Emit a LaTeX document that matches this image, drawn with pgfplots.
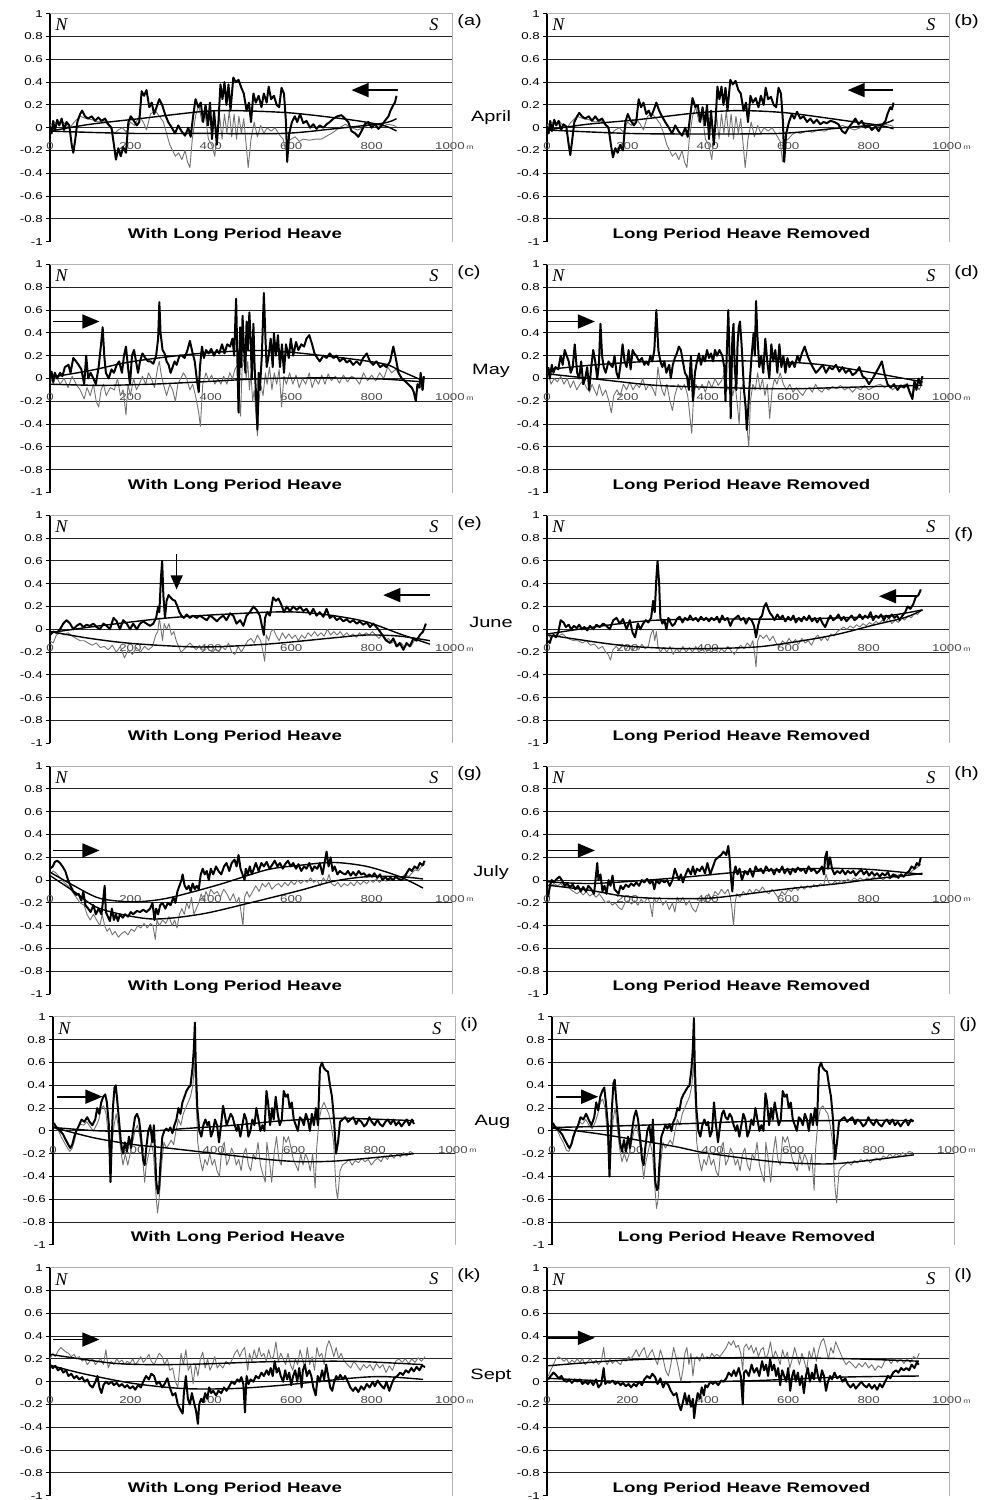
\documentclass[border=0pt]{standalone}
\usepackage{fontspec}
\setmainfont{Liberation Sans}
\newfontfamily\tnr{Liberation Serif}
\usepackage{pgfplots}
\pgfplotsset{compat=1.18}
\usetikzlibrary{arrows.meta}

\pgfplotsset{
  panel/.style={
    scale only axis, width=201pt, height=114pt,
    xmin=0, xmax=1000, ymin=-1, ymax=1,
    axis lines=left, axis line style={-},
    x axis line style={draw=none},
    y axis line style={black, line width=0.6pt},
    xtick=\empty,
    ytick={-0.8,-0.6,-0.4,-0.2,0,0.2,0.4,0.6,0.8},
    extra y ticks={-1,1},
    extra y tick style={grid=none},
    ymajorgrids,
    grid style={black!85, line width=0.55pt},
    major tick length=2pt,
    tick align=outside,
    tick style={black, line width=0.5pt},
    /pgf/number format/assume math mode=true,
    yticklabel style={font=\fontsize{5}{5}\selectfont, xscale=1.33, inner sep=1pt},
    clip=false,
  },
  blk/.style={black, line width=1pt, line join=round},
  gry/.style={black!55, line width=0.45pt, line join=round},
  trd/.style={black, line width=0.7pt, smooth},
}
\tikzset{
  tl/.style={font=\fontsize{5}{5}\selectfont, xscale=1.33, text=black!70, inner sep=0pt},
  ns/.style={font=\fontsize{9}{9}\selectfont\tnr\itshape, inner sep=0pt},
  plab/.style={font=\fontsize{7.5}{8}\selectfont, xscale=1.33, anchor=west, inner sep=0pt},
  ttl/.style={font=\fontsize{7}{8}\selectfont\bfseries, xscale=1.33, inner sep=0pt},
  mon/.style={font=\fontsize{7.5}{8}\selectfont, xscale=1.33, inner sep=0pt},
  arr/.style={black, line width=0.8pt, -{Triangle[length=8.5pt,width=7pt]}},
  arrd/.style={black, line width=0.6pt, -{Triangle[length=7pt,width=6pt]}},
}

% frame, x labels, N/S, panel letter
\newcommand\deco[2]{%
  \draw[black!30, line width=0.5pt] (axis cs:0,1) -- (axis cs:1000,1) -- (axis cs:1000,-1);
  \node[tl] at (axis cs:0,-0.165) {0};
  \node[tl] at (axis cs:200,-0.165) {200};
  \node[tl] at (axis cs:400,-0.165) {400};
  \node[tl] at (axis cs:600,-0.165) {600};
  \node[tl] at (axis cs:800,-0.165) {800};
  \node[tl] at (axis cs:995,-0.165) {1000};
  \node[tl, font=\fontsize{3.3}{4}\selectfont] at (axis cs:1045,-0.175) {m};
  \node[ns] at (axis cs:28,0.9) {N};
  \node[ns] at (axis cs:955,0.9) {S};
  \node[plab] at (axis cs:1012,#2) {(#1)};
}
\newcommand\ldeco[1]{\deco{#1}{0.93}\node[ttl] at (axis cs:460,-0.94) {With Long Period Heave};}
\newcommand\rdeco[2]{\deco{#1}{#2}\node[ttl] at (axis cs:484,-0.94) {Long Period Heave Removed};}

\begin{document}
\begin{tikzpicture}
\path[use as bounding box] (0,0) rectangle (492pt,-750pt);

% ---------------- April ----------------
\begin{axis}[panel, at={(25pt,-6.85pt)}, anchor=north west]
\ldeco{a}
\node[mon] at (axis cs:1097,0.085) {April};
\addplot[gry] coordinates {(0,0.02)(10,0.05)(20,0.03)(30,0.06)(40,0.02)(50,0)(60,0.05)(75,0.1)(90,0.08)(105,0.07)(120,0.05)(135,0.06)(150,0)(160,-0.05)(170,-0.02)(180,0)(190,-0.04)(200,0.05)(210,0.02)(222,0.1)(232,0.05)(240,-0.02)(250,0.12)(262,0.15)(272,0.1)(282,0.05)(290,-0.05)(298,-0.15)(305,-0.2)(312,-0.25)(320,-0.22)(328,-0.28)(336,-0.2)(342,-0.3)(348,-0.35)(354,-0.1)(362,0.1)(370,0.2)(378,0.05)(386,0.12)(394,-0.1)(402,-0.15)(410,-0.25)(416,-0.05)(422,0.1)(428,-0.1)(434,0.12)(440,-0.05)(446,0.15)(452,-0.08)(458,0.12)(464,-0.1)(470,0.1)(476,-0.05)(482,0.08)(488,-0.15)(493,-0.35)(500,-0.1)(508,0.05)(516,-0.08)(524,0.02)(532,-0.05)(540,0)(550,-0.03)(560,0)(570,-0.06)(580,-0.1)(586,-0.2)(592,-0.12)(600,-0.1)(610,-0.08)(620,-0.12)(630,-0.1)(645,-0.11)(660,-0.1)(675,-0.1)(690,-0.07)(705,-0.04)(720,0)(735,0.03)(750,0)(765,-0.02)(780,0)(795,0.03)(810,0.02)(825,0.01)(840,0.03)(855,0.02)(862,0.01)};
\addplot[blk] coordinates {(0,0)(4,-0.05)(8,0.06)(12,-0.03)(18,0.07)(23,0.02)(29,0.08)(35,-0.02)(41,0.05)(48,0.02)(54,-0.15)(58,-0.22)(63,-0.1)(68,0.05)(75,0.12)(80,0.15)(87,0.1)(95,0.08)(104,0.1)(112,0.06)(120,0.09)(128,0.06)(137,0.08)(145,0.03)(153,0)(159,-0.15)(164,-0.28)(170,-0.18)(176,-0.25)(182,-0.17)(189,-0.22)(195,0.05)(201,0.1)(207,0.07)(216,0.02)(222,0.05)(228,0.32)(234,0.28)(240,0.33)(247,0.18)(253,0.22)(259,0.12)(265,0.18)(272,0.25)(279,0.2)(286,0.12)(294,0.05)(303,0)(311,-0.05)(319,0.02)(327,-0.03)(336,-0.07)(344,0)(350,-0.08)(356,0.1)(362,0.25)(369,0.18)(375,0.22)(381,0.05)(387,0.2)(393,0.02)(398,0.22)(403,-0.1)(408,0.15)(415,-0.15)(419,0.05)(424,0.38)(429,0.25)(434,0.4)(439,0.2)(444,0.38)(449,0.15)(456,0.44)(462,0.4)(469,0.42)(476,0.35)(482,0.3)(489,0.15)(495,0.22)(500,0.05)(506,0.3)(512,0.22)(519,0.28)(526,0.18)(532,0.3)(539,0.22)(544,0.36)(550,0.25)(557,0.28)(564,0.2)(570,0.18)(576,0.35)(582,0.3)(587,0.05)(590,-0.3)(595,-0.05)(602,0.05)(609,0.1)(615,0.05)(622,0.12)(630,0.04)(638,0.06)(647,0)(655,0.03)(663,-0.01)(671,0.02)(680,0)(688,0.03)(696,0.05)(705,0.08)(715,0.1)(725,0.11)(734,0.08)(742,0.05)(750,-0.03)(759,-0.05)(767,-0.08)(775,-0.03)(783,0.03)(792,0.05)(800,0)(808,0.03)(817,-0.01)(825,0.02)(833,0.06)(842,0.1)(847,0.15)(854,0.2)(858,0.22)(862,0.28)};
\addplot[trd] coordinates {(0,-0.03)(100,0.03)(224,0.08)(373,0.14)(456,0.15)(597,0.13)(746,0.07)(829,0.02)(862,-0.03)};
\addplot[trd] coordinates {(0,-0.03)(200,-0.05)(373,-0.05)(580,-0.05)(705,-0.01)(829,0.04)(862,0.08)};
\draw[arr] (axis cs:865,0.33) -- (axis cs:750,0.33);
\end{axis}

\begin{axis}[panel, at={(273.5pt,-6.85pt)}, anchor=north west]
\rdeco{b}{0.93}
\addplot[gry] coordinates {(0,0.02)(10,0.05)(20,0.03)(30,0.06)(40,0.02)(50,0)(60,0.05)(75,0.1)(90,0.08)(105,0.07)(120,0.05)(135,0.06)(150,0)(160,-0.05)(170,-0.02)(180,0)(190,-0.04)(200,0.05)(210,0.02)(222,0.08)(232,0.03)(240,-0.02)(250,0.1)(262,0.12)(272,0.08)(282,0.03)(290,-0.05)(298,-0.15)(305,-0.2)(312,-0.25)(320,-0.22)(328,-0.28)(336,-0.2)(342,-0.3)(348,-0.35)(354,-0.1)(362,0.1)(370,0.18)(378,0.05)(386,0.12)(394,-0.1)(402,-0.15)(410,-0.28)(416,-0.05)(422,0.1)(428,-0.1)(434,0.12)(440,-0.05)(446,0.15)(452,-0.08)(458,0.12)(464,-0.1)(470,0.1)(476,-0.05)(482,0.08)(488,-0.15)(493,-0.35)(500,-0.1)(508,0.05)(516,-0.08)(524,0.02)(532,-0.05)(540,0)(550,-0.03)(560,0)(570,-0.06)(580,-0.12)(586,-0.3)(592,-0.12)(600,-0.1)(610,-0.06)(620,-0.04)(630,-0.05)(645,-0.03)(660,-0.04)(675,-0.02)(690,-0.03)(705,-0.01)(720,0)(735,0.02)(750,0)(765,-0.02)(780,0)(795,0.03)(810,0.02)(825,0.01)(840,0.03)(855,0.02)(862,0.01)};
\addplot[blk] coordinates {(0,0)(4,-0.05)(8,0.06)(12,-0.03)(18,0.07)(23,0.02)(29,0.06)(35,-0.02)(41,0.03)(48,0.01)(54,-0.15)(58,-0.24)(63,-0.1)(68,0.05)(75,0.1)(80,0.13)(87,0.1)(95,0.08)(104,0.1)(112,0.06)(120,0.1)(128,0.06)(137,0.08)(145,0.03)(153,0)(159,-0.15)(164,-0.26)(170,-0.18)(176,-0.22)(182,-0.15)(189,-0.2)(195,0.05)(201,0.12)(207,0.07)(216,0.02)(222,0.05)(228,0.25)(234,0.18)(240,0.22)(247,0.12)(253,0.15)(259,0.1)(265,0.15)(272,0.22)(279,0.15)(286,0.1)(294,0.05)(303,0)(311,-0.05)(319,0.02)(327,-0.03)(336,-0.07)(344,0)(350,-0.08)(356,0.1)(362,0.26)(369,0.18)(375,0.2)(381,0.05)(387,0.18)(393,0.02)(398,0.2)(403,-0.1)(408,0.15)(415,-0.15)(419,0.05)(424,0.36)(429,0.25)(434,0.36)(439,0.2)(444,0.35)(449,0.15)(456,0.42)(462,0.38)(469,0.41)(476,0.33)(482,0.3)(489,0.15)(495,0.22)(500,0.05)(506,0.28)(512,0.22)(519,0.26)(526,0.18)(532,0.28)(539,0.2)(544,0.35)(550,0.25)(557,0.27)(564,0.2)(570,0.18)(576,0.35)(582,0.3)(587,0.05)(590,-0.3)(595,-0.05)(602,0.05)(609,0.12)(615,0.08)(622,0.14)(630,0.08)(638,0.1)(647,0.05)(655,0.08)(663,0.04)(671,0.07)(680,0.03)(688,0.05)(696,0.04)(705,0.06)(715,0.05)(725,0.03)(734,-0.03)(742,-0.05)(750,0.0)(759,0.04)(767,0.08)(775,0.03)(783,0.06)(792,0.0)(800,0.02)(808,-0.02)(817,0.01)(825,-0.03)(833,0.02)(842,0.06)(847,0.12)(854,0.18)(858,0.16)(862,0.22)};
\addplot[trd] coordinates {(0,-0.02)(100,0.03)(224,0.07)(373,0.13)(480,0.15)(597,0.13)(746,0.06)(829,0.02)(862,-0.01)};
\addplot[trd] coordinates {(0,-0.02)(200,-0.05)(373,-0.055)(580,-0.05)(705,-0.01)(829,0.03)(862,0.07)};
\draw[arr] (axis cs:861,0.33) -- (axis cs:748,0.33);
\end{axis}

% ---------------- May ----------------
\begin{axis}[panel, at={(25pt,-132.25pt)}, anchor=north west]
\ldeco{c}
\node[mon] at (axis cs:1097,0.07) {May};
\addplot[gry] coordinates {(0,0.02)(8,-0.05)(15,0.03)(25,-0.05)(35,0)(45,-0.08)(55,0.02)(65,-0.05)(75,-0.1)(85,-0.18)(92,-0.08)(100,-0.15)(108,-0.05)(115,-0.2)(121,-0.25)(127,-0.1)(133,-0.05)(140,-0.15)(150,-0.08)(160,-0.1)(168,0)(175,-0.15)(182,-0.1)(189,-0.32)(194,-0.05)(200,-0.15)(208,0)(215,-0.1)(222,-0.05)(230,0.02)(238,-0.05)(245,0.05)(252,0)(260,-0.08)(268,0.1)(272,0.15)(276,0.05)(282,-0.05)(290,-0.15)(298,-0.05)(305,-0.1)(312,-0.2)(318,-0.05)(325,0)(332,0.05)(340,0)(348,-0.1)(355,-0.05)(362,-0.15)(370,-0.3)(374,-0.42)(380,-0.05)(388,0.05)(395,-0.02)(402,0.03)(410,-0.05)(418,0)(425,-0.05)(432,0.02)(440,-0.05)(447,0.05)(454,0)(460,0.08)(466,0.12)(470,-0.1)(474,-0.33)(478,0.1)(484,0.2)(488,0)(492,0.15)(496,-0.1)(500,0.05)(504,-0.2)(508,-0.1)(512,-0.3)(516,-0.5)(520,-0.2)(524,-0.05)(530,-0.15)(536,0.05)(540,-0.05)(546,0.1)(552,-0.1)(558,0.05)(564,-0.05)(570,0.08)(576,-0.25)(582,0.02)(588,-0.05)(596,0.05)(604,-0.05)(612,0.03)(620,-0.08)(628,0)(636,-0.05)(645,0.05)(652,-0.08)(660,0)(668,-0.05)(676,0.03)(684,-0.05)(692,0.04)(700,-0.02)(710,0.02)(720,-0.04)(730,0.03)(740,-0.03)(750,0.02)(760,0)(770,-0.05)(780,0.05)(790,-0.02)(800,0.03)(810,-0.02)(820,0.05)(830,0)(840,0.1)(850,0.05)(860,0.08)(870,0.03)(880,-0.02)(890,-0.05)(900,-0.08)(910,-0.15)(918,-0.05)(925,-0.1)(930,-0.02)};
\addplot[blk] coordinates {(0,0)(4,0.06)(8,-0.03)(12,0.05)(18,0)(25,0.05)(31,0.02)(37,0.1)(46,0.12)(51,0.05)(58,0.18)(65,0.15)(71,0.12)(78,0.08)(85,-0.05)(90,0.2)(95,0)(101,0.05)(108,0)(114,-0.05)(121,0.1)(127,0.3)(131,0.45)(135,0.2)(139,0.05)(146,0)(153,0.08)(159,0.05)(166,0.12)(172,0.15)(179,0.05)(184,0.2)(189,0.28)(194,0.1)(199,-0.05)(204,0.2)(209,0.25)(214,0.15)(219,0.05)(224,0.15)(230,0.22)(237,0.18)(244,0.15)(250,0.15)(257,0.13)(264,0.2)(269,0.35)(272,0.67)(275,0.4)(280,0.25)(285,0.22)(290,0.15)(295,0.12)(300,0.05)(305,0.1)(310,0.15)(315,0.12)(322,0.2)(328,0.2)(335,0.18)(342,0.25)(348,0.33)(353,0.25)(360,0.15)(365,0)(370,-0.12)(373,0.1)(378,0.28)(383,0.18)(388,0.25)(395,0.22)(401,0.26)(408,0.2)(415,0.25)(421,0.22)(428,0.3)(434,0.22)(441,0.3)(448,0.28)(454,0.35)(458,0.2)(463,0.7)(466,0.2)(469,-0.3)(473,0.45)(476,0.1)(479,0.55)(482,0.3)(486,0.05)(489,0.5)(492,0.25)(496,0.58)(499,0.35)(502,0)(506,0.48)(509,0.1)(512,-0.1)(516,-0.45)(519,0.05)(522,-0.1)(527,0.2)(532,0.75)(536,0.35)(539,0.1)(544,0.2)(549,0.35)(554,0.1)(557,0.4)(562,0.2)(567,0.38)(572,0.1)(577,0.3)(582,0.05)(587,0.3)(594,0.18)(599,0.35)(605,0.2)(612,0.32)(618,0.25)(625,0.3)(632,0.28)(638,0.35)(645,0.38)(652,0.3)(658,0.22)(665,0.18)(671,0.15)(680,0.2)(688,0.18)(696,0.22)(705,0.18)(713,0.2)(721,0.15)(730,0.18)(738,0.14)(746,0.16)(754,0.12)(763,0.15)(771,0.12)(779,0.18)(788,0.22)(796,0.15)(804,0.12)(812,0.15)(821,0.1)(829,0.12)(837,0.1)(846,0.15)(854,0.28)(860,0.18)(867,0.05)(875,0)(883,-0.02)(891,-0.05)(900,-0.08)(905,-0.12)(910,-0.2)(914,-0.05)(919,-0.08)(922,0.05)(927,-0.1)(930,0.02)};
\addplot[trd] coordinates {(0,0.01)(100,0.07)(207,0.15)(373,0.22)(539,0.245)(705,0.19)(829,0.13)(870,0.07)(928,-0.02)};
\addplot[trd] coordinates {(0,-0.05)(124,-0.06)(250,-0.05)(373,-0.03)(539,0)(705,0.005)(829,-0.005)(928,-0.03)};
\draw[arr] (axis cs:7,0.5) -- (axis cs:123,0.5);
\end{axis}

\begin{axis}[panel, at={(273.5pt,-132.25pt)}, anchor=north west]
\rdeco{d}{0.93}
\addplot[gry] coordinates {(3,0.05)(10,-0.05)(18,0)(26,-0.03)(34,0.02)(42,-0.05)(50,0)(58,-0.08)(66,-0.02)(74,-0.1)(82,-0.05)(90,-0.02)(98,-0.08)(106,-0.12)(112,-0.05)(118,-0.1)(124,-0.15)(130,-0.05)(138,-0.15)(146,-0.1)(154,-0.2)(160,-0.3)(166,-0.15)(174,-0.1)(182,-0.15)(190,-0.05)(198,-0.1)(206,-0.03)(214,-0.1)(222,-0.05)(230,-0.08)(238,0)(246,-0.1)(254,-0.05)(262,-0.08)(270,-0.15)(276,0.1)(280,0)(286,-0.1)(292,-0.15)(298,-0.05)(306,-0.2)(312,-0.28)(318,-0.15)(326,-0.05)(334,-0.1)(342,-0.05)(350,-0.15)(356,-0.35)(360,-0.48)(364,-0.2)(370,-0.05)(378,-0.1)(386,-0.05)(394,-0.12)(402,-0.02)(410,-0.08)(418,0)(426,-0.06)(434,-0.02)(442,0.05)(450,-0.1)(456,-0.05)(462,-0.15)(468,-0.05)(474,-0.25)(478,-0.4)(482,-0.1)(488,-0.05)(494,-0.2)(498,-0.45)(502,-0.6)(506,-0.2)(512,-0.05)(518,-0.1)(524,0.05)(530,-0.1)(536,0)(542,-0.15)(548,-0.05)(554,-0.35)(560,-0.1)(566,0)(572,-0.05)(580,0.05)(588,-0.05)(596,-0.1)(604,-0.05)(612,-0.12)(620,-0.08)(628,-0.12)(636,-0.15)(644,-0.1)(652,-0.08)(660,-0.12)(668,-0.05)(676,-0.1)(684,-0.12)(692,-0.08)(700,-0.1)(710,-0.07)(720,-0.09)(730,-0.06)(740,-0.1)(750,-0.08)(760,-0.12)(770,-0.08)(780,-0.1)(790,-0.06)(800,-0.1)(810,-0.08)(820,-0.06)(830,-0.05)(840,-0.08)(850,-0.06)(860,-0.1)(870,-0.06)(880,-0.08)(890,-0.05)(900,-0.1)(910,-0.15)(918,-0.05)(926,-0.1)(934,-0.03)};
\addplot[blk] coordinates {(3,0.1)(7,0)(12,0.12)(16,0.05)(21,0.1)(28,0.08)(34,0.2)(39,0.12)(44,0.25)(49,0.2)(54,0.15)(59,0.05)(64,0.1)(69,0.3)(75,0.05)(80,0)(85,0.15)(90,-0.05)(95,0)(100,0.1)(105,-0.1)(110,0.1)(115,0.25)(120,0.15)(125,0)(129,0.12)(133,0.48)(137,0.2)(141,0.1)(146,0.05)(153,0.15)(158,0.12)(163,0.1)(168,0.2)(173,0.05)(178,0)(183,0.12)(188,0.3)(193,0.15)(198,0.1)(203,0.25)(208,0.08)(213,0.25)(217,0.22)(222,0.2)(229,0.15)(236,0.18)(242,0.12)(247,0.15)(252,0.12)(257,0.2)(262,0.15)(267,0.25)(272,0.6)(277,0.25)(282,0.15)(287,0.1)(292,0.15)(297,0.05)(304,0.12)(308,0)(313,0.12)(318,0.18)(323,0.22)(328,0.28)(333,0.25)(338,0.15)(343,0.05)(348,0.02)(353,-0.1)(358,0.2)(363,-0.2)(368,0.05)(373,0.15)(378,0.22)(383,0.12)(388,0.2)(393,0.15)(398,0.25)(403,0.18)(408,0.22)(413,0.15)(418,0.25)(423,0.2)(429,0.25)(436,0.2)(441,0.1)(444,-0.2)(447,0.2)(451,0.6)(454,0.2)(457,-0.35)(461,0.35)(464,0.48)(467,0.1)(471,-0.1)(474,0.3)(477,0.45)(480,0.5)(484,0.3)(487,0.1)(490,-0.1)(494,-0.25)(497,-0.45)(500,-0.3)(504,-0.05)(509,0.2)(514,0.4)(517,0.2)(520,0.68)(523,0.4)(528,0.1)(533,0.2)(538,0.05)(543,0.35)(548,0.15)(553,0)(558,0.3)(563,0.15)(568,0.25)(573,0.05)(578,0.3)(583,0.1)(588,0.2)(593,0.05)(598,0.18)(603,0.1)(610,0.15)(616,0.1)(623,0.2)(628,0.15)(634,0.22)(641,0.28)(648,0.2)(654,0.15)(661,0.1)(669,0.05)(677,0.08)(686,0.12)(694,0.05)(702,0.1)(710,0.08)(719,0.12)(727,0.06)(735,0.1)(743,0.05)(752,0.08)(760,0.03)(768,0.05)(777,0.1)(785,0.02)(793,0)(801,-0.05)(810,0)(818,0.05)(826,0.1)(833,0.15)(839,0.05)(847,-0.05)(855,-0.08)(863,-0.05)(872,-0.1)(880,-0.06)(888,-0.08)(896,-0.05)(902,-0.12)(909,-0.18)(914,-0.02)(919,-0.1)(924,0)(929,-0.05)(934,0.02)};
\addplot[trd] coordinates {(3,0.08)(120,0.12)(255,0.15)(400,0.155)(561,0.15)(686,0.12)(810,0.05)(934,-0.03)};
\addplot[trd] coordinates {(3,0.04)(148,-0.015)(272,-0.06)(437,-0.08)(603,-0.09)(768,-0.075)(934,-0.06)};
\draw[arr] (axis cs:3,0.5) -- (axis cs:119,0.5);
\end{axis}

% ---------------- June ----------------
\begin{axis}[panel, at={(25pt,-257.65pt)}, anchor=north west]
\ldeco{e}
\node[mon] at (axis cs:1097,0.06) {June};
\addplot[gry] coordinates {(0,-0.1)(8,-0.12)(16,-0.05)(25,-0.03)(35,-0.05)(45,-0.03)(55,-0.06)(65,-0.08)(75,-0.1)(85,-0.1)(95,-0.12)(105,-0.14)(115,-0.12)(125,-0.16)(135,-0.15)(145,-0.18)(155,-0.14)(165,-0.2)(175,-0.15)(185,-0.25)(195,-0.18)(205,-0.22)(215,-0.16)(225,-0.2)(235,-0.15)(245,-0.18)(255,-0.15)(263,-0.05)(268,-0.02)(272,0.1)(276,0)(280,-0.1)(284,0.05)(290,0)(296,0.05)(302,-0.05)(308,-0.02)(314,-0.1)(320,-0.15)(326,-0.2)(332,-0.18)(340,-0.15)(348,-0.12)(356,-0.15)(364,-0.18)(372,-0.14)(380,-0.2)(388,-0.15)(396,-0.18)(404,-0.2)(412,-0.17)(420,-0.2)(428,-0.15)(436,-0.18)(444,-0.12)(452,-0.2)(460,-0.22)(468,-0.15)(476,-0.2)(484,-0.15)(492,-0.1)(500,-0.08)(508,-0.12)(516,-0.05)(524,-0.1)(530,-0.2)(534,-0.28)(538,-0.05)(544,-0.1)(550,-0.02)(556,0)(562,-0.05)(570,-0.1)(578,-0.03)(586,-0.08)(594,-0.04)(602,-0.08)(610,-0.05)(618,-0.1)(626,-0.05)(634,-0.08)(642,-0.03)(650,-0.06)(658,-0.02)(666,-0.06)(674,-0.03)(682,-0.06)(690,0)(698,-0.05)(706,-0.02)(714,-0.05)(722,-0.02)(730,-0.06)(738,-0.03)(746,-0.06)(754,-0.04)(762,-0.07)(770,-0.03)(778,-0.06)(786,-0.03)(794,-0.05)(802,-0.02)(810,-0.05)(818,-0.08)(826,-0.05)(834,-0.1)(842,-0.08)(850,-0.12)(858,-0.1)(866,-0.15)(874,-0.12)(882,-0.16)(890,-0.13)(898,-0.15)(906,-0.1)(914,-0.08)(922,-0.04)(930,0)};
\addplot[blk] coordinates {(0,-0.05)(8,-0.02)(17,-0.03)(25,0)(33,0.05)(41,0.08)(50,0.05)(58,0)(66,0.03)(75,0.05)(83,0.02)(91,0.04)(99,0.03)(108,0.05)(116,0.02)(124,0)(133,0.05)(141,0.03)(149,0)(158,0.1)(166,0.07)(174,0)(182,0.08)(191,0.05)(199,0)(207,0.05)(216,0)(224,0.05)(232,0.07)(240,0.05)(249,0.03)(257,0.05)(264,0.1)(269,0.2)(272,0.15)(276,0.45)(279,0.6)(282,0.3)(286,0.1)(290,0.25)(295,0.3)(300,0.28)(305,0.26)(311,0.25)(317,0.2)(322,0.15)(327,0.12)(333,0.1)(340,0.13)(348,0.1)(356,0.12)(365,0.1)(373,0.12)(381,0.1)(390,0.08)(398,0.12)(406,0.1)(415,0.07)(423,0.1)(431,0.12)(439,0.08)(448,0.14)(456,0.12)(464,0.05)(473,0.08)(481,0.03)(489,0.12)(497,0.15)(506,0.2)(514,0.17)(522,0.12)(529,0)(532,-0.05)(535,0.1)(540,0.15)(547,0.12)(551,0.2)(555,0.28)(562,0.25)(568,0.27)(575,0.22)(582,0.15)(589,0.2)(597,0.16)(605,0.2)(614,0.17)(622,0.2)(630,0.16)(638,0.18)(647,0.13)(655,0.18)(663,0.12)(671,0.15)(680,0.11)(688,0.18)(696,0.1)(705,0.12)(713,0.08)(721,0.1)(730,0.07)(738,0.09)(746,0.06)(754,0.08)(763,0.05)(771,0.07)(779,0.04)(788,0.06)(796,0.02)(804,0.05)(812,0.02)(821,-0.02)(829,-0.06)(837,-0.1)(846,-0.12)(854,-0.08)(862,-0.15)(870,-0.12)(879,-0.18)(887,-0.12)(895,-0.15)(904,-0.08)(912,-0.1)(920,-0.05)(928,-0.02)(935,0.05)};
\addplot[trd] coordinates {(0,-0.03)(100,0.02)(265,0.09)(373,0.12)(539,0.15)(622,0.15)(705,0.12)(788,0.065)(870,-0.04)(945,-0.13)};
\addplot[trd] coordinates {(0,-0.02)(100,-0.08)(207,-0.125)(373,-0.155)(539,-0.13)(705,-0.075)(788,-0.05)(870,-0.06)(945,-0.1)};
\draw[arr] (axis cs:945,0.3) -- (axis cs:829,0.3);
\draw[arrd] (axis cs:315,0.66) -- (axis cs:315,0.35);
\end{axis}

\begin{axis}[panel, at={(273.5pt,-257.65pt)}, anchor=north west]
\rdeco{f}{0.83}
\addplot[gry] coordinates {(3,-0.05)(10,-0.08)(18,-0.05)(28,-0.06)(38,-0.04)(48,-0.07)(58,-0.09)(68,-0.1)(78,-0.1)(88,-0.12)(98,-0.1)(108,-0.14)(118,-0.13)(128,-0.17)(138,-0.15)(146,-0.2)(152,-0.22)(158,-0.27)(164,-0.18)(172,-0.15)(180,-0.18)(188,-0.13)(196,-0.18)(204,-0.14)(212,-0.19)(220,-0.15)(228,-0.18)(236,-0.13)(244,-0.17)(252,-0.15)(258,-0.05)(264,0)(268,-0.1)(272,-0.02)(276,-0.15)(282,-0.2)(290,-0.16)(298,-0.2)(306,-0.15)(314,-0.22)(322,-0.17)(330,-0.2)(338,-0.15)(346,-0.2)(354,-0.16)(362,-0.2)(370,-0.15)(378,-0.2)(386,-0.17)(394,-0.21)(402,-0.17)(410,-0.2)(418,-0.16)(426,-0.21)(434,-0.17)(442,-0.2)(450,-0.15)(458,-0.19)(466,-0.22)(474,-0.17)(482,-0.14)(490,-0.17)(498,-0.12)(506,-0.15)(512,-0.1)(516,-0.2)(520,-0.33)(524,-0.1)(530,-0.05)(538,-0.08)(546,-0.05)(554,-0.1)(562,-0.06)(570,-0.12)(578,-0.15)(586,-0.1)(594,-0.13)(602,-0.08)(610,-0.12)(618,-0.09)(626,-0.13)(634,-0.08)(642,-0.12)(650,-0.1)(658,-0.14)(666,-0.08)(674,-0.05)(682,-0.1)(690,-0.06)(698,-0.1)(706,-0.04)(714,-0.06)(722,-0.02)(730,0)(738,0.02)(746,0)(754,0.03)(762,0.01)(770,0.04)(778,0.02)(786,0.05)(794,0.03)(802,0.06)(810,0.04)(818,0.07)(826,0.05)(834,0.08)(842,0.06)(850,0.1)(858,0.05)(866,0.08)(874,0.06)(882,0.1)(890,0.08)(898,0.12)(906,0.1)(914,0.14)(922,0.13)(930,0.17)};
\addplot[blk] coordinates {(3,-0.1)(7,-0.12)(12,-0.06)(17,-0.05)(22,-0.07)(28,-0.03)(34,0.08)(41,0.06)(47,0.02)(54,0.04)(60,0)(67,0.03)(74,0.01)(80,0.04)(87,0)(93,0.02)(100,-0.01)(107,0.03)(115,0)(123,0.04)(131,0.02)(140,0.05)(148,0.03)(156,0)(165,0.08)(173,0.1)(181,0.05)(189,0.09)(198,0)(206,0.08)(213,-0.03)(219,-0.07)(226,0.05)(232,0)(239,0.05)(246,0.08)(252,0.06)(259,0.1)(264,0.25)(268,0.15)(272,0.45)(275,0.6)(279,0.4)(282,0.1)(287,0.05)(292,0.08)(297,0)(302,0.1)(307,0.06)(312,0.03)(318,0.05)(323,0.09)(330,0.11)(337,0.06)(343,0.1)(350,0.08)(356,0.12)(363,0.08)(370,0.1)(376,0.07)(383,0.11)(390,0.08)(396,0.1)(403,0.07)(409,0.1)(416,0.08)(423,0.11)(429,0.06)(436,0.12)(442,0.08)(449,0.1)(456,0.03)(462,0.08)(469,0.1)(476,0.12)(482,0.08)(489,0.1)(495,0.05)(502,0.1)(509,0.08)(515,0.03)(520,-0.07)(525,0.03)(530,0.1)(535,0.12)(540,0.2)(545,0.23)(550,0.18)(555,0.14)(560,0.12)(566,0.08)(573,0.13)(580,0.09)(586,0.12)(593,0.07)(600,0.11)(606,0.08)(613,0.12)(619,0.06)(626,0.1)(633,0.07)(639,0.11)(646,0.08)(652,0.12)(659,0.07)(666,0.1)(672,0.06)(679,0.1)(686,0.05)(692,0.02)(699,0.08)(705,0.12)(712,0.08)(719,0.1)(725,0.13)(732,0.08)(738,0.11)(745,0.07)(752,0.1)(758,0.12)(765,0.08)(772,0.1)(778,0.13)(785,0.09)(791,0.12)(798,0.1)(805,0.15)(811,0.08)(818,0.12)(825,0.1)(831,0.13)(838,0.08)(844,0.12)(851,0.1)(858,0.13)(864,0.1)(871,0.12)(877,0.08)(884,0.12)(891,0.15)(897,0.2)(904,0.18)(911,0.22)(917,0.28)(924,0.3)(930,0.35)};
\addplot[trd] coordinates {(3,-0.04)(148,0.035)(272,0.08)(437,0.09)(603,0.09)(768,0.105)(851,0.12)(934,0.17)};
\addplot[trd] coordinates {(3,-0.05)(148,-0.125)(231,-0.155)(355,-0.17)(520,-0.155)(644,-0.095)(727,-0.04)(810,0.035)(892,0.105)(934,0.17)};
\draw[arr] (axis cs:921,0.29) -- (axis cs:826,0.29);
\end{axis}

% ---------------- July ----------------
\begin{axis}[panel, at={(25pt,-383.05pt)}, anchor=north west]
\ldeco{g}
\node[mon] at (axis cs:1097,0.07) {July};
\addplot[gry] coordinates {(0,0.05)(8,0.08)(16,0.06)(25,0.02)(35,-0.02)(45,-0.05)(55,-0.1)(65,-0.15)(75,-0.2)(85,-0.22)(92,-0.3)(100,-0.35)(108,-0.3)(116,-0.35)(124,-0.4)(130,-0.3)(136,-0.4)(142,-0.45)(148,-0.42)(155,-0.48)(162,-0.45)(170,-0.5)(178,-0.47)(186,-0.45)(194,-0.48)(202,-0.43)(210,-0.45)(218,-0.4)(226,-0.42)(234,-0.38)(242,-0.42)(250,-0.38)(256,-0.4)(262,-0.52)(266,-0.35)(272,-0.4)(280,-0.35)(288,-0.38)(296,-0.32)(304,-0.4)(310,-0.35)(316,-0.42)(322,-0.3)(328,-0.25)(334,-0.3)(340,-0.2)(346,-0.25)(352,-0.15)(358,-0.3)(364,-0.25)(370,-0.2)(376,-0.12)(382,-0.18)(388,-0.1)(394,-0.15)(400,-0.08)(408,-0.12)(416,-0.1)(424,-0.15)(432,-0.08)(440,-0.12)(448,-0.18)(456,-0.12)(464,-0.2)(470,-0.15)(476,-0.3)(480,-0.4)(484,-0.15)(490,-0.1)(496,-0.15)(504,-0.1)(512,-0.05)(520,-0.1)(528,-0.03)(536,-0.06)(544,-0.02)(552,-0.08)(560,-0.05)(568,-0.03)(576,-0.06)(584,-0.02)(592,-0.05)(600,-0.01)(608,-0.04)(616,0)(624,-0.03)(632,0)(640,-0.02)(648,0.02)(656,-0.02)(664,0)(672,-0.05)(680,0.02)(688,-0.02)(694,0.05)(700,-0.03)(708,-0.05)(716,-0.02)(724,-0.06)(732,-0.03)(740,-0.05)(748,-0.02)(756,-0.05)(764,-0.01)(772,-0.04)(780,-0.01)(788,-0.03)(796,0)(804,-0.02)(812,0.01)(820,-0.02)(828,0.01)(836,-0.01)(844,0.02)(852,0)(860,0.03)(868,0.01)(876,0.03)(884,0.05)(892,0.03)(900,0.06)(908,0.09)(916,0.08)(924,0.12)(932,0.14)};
\addplot[blk] coordinates {(0,0.1)(7,0.12)(12,0.16)(18,0.17)(25,0.15)(31,0.12)(38,0.08)(45,0)(51,-0.05)(58,-0.1)(65,-0.13)(71,-0.12)(78,-0.18)(83,-0.1)(88,-0.22)(95,-0.25)(101,-0.28)(108,-0.22)(114,-0.3)(121,-0.25)(128,-0.3)(133,-0.15)(136,-0.05)(139,-0.28)(144,-0.32)(149,-0.36)(154,-0.25)(159,-0.35)(164,-0.3)(169,-0.36)(174,-0.3)(181,-0.33)(187,-0.3)(194,-0.32)(201,-0.28)(207,-0.3)(216,-0.27)(224,-0.28)(232,-0.26)(240,-0.28)(249,-0.25)(255,-0.2)(260,-0.35)(264,-0.25)(269,-0.3)(274,-0.22)(280,-0.2)(287,-0.25)(293,-0.2)(300,-0.22)(307,-0.15)(312,-0.2)(317,-0.1)(322,-0.05)(327,0)(330,0.05)(335,-0.05)(340,-0.08)(345,-0.05)(350,-0.1)(355,-0.03)(360,-0.08)(365,-0.05)(370,-0.08)(375,0.05)(380,0.1)(385,0.05)(390,0.08)(395,0)(400,0.1)(406,0.05)(413,0.12)(419,0.08)(426,0.05)(433,0.12)(439,0.15)(446,0.08)(452,0.15)(459,0.18)(464,0.12)(469,0.22)(474,0.1)(479,0.05)(484,0)(487,0.1)(492,0.05)(497,0.12)(502,0.05)(507,0.1)(512,0.15)(519,0.08)(526,0.15)(532,0.12)(539,0.16)(546,0.1)(552,0.13)(559,0.17)(566,0.12)(572,0.15)(579,0.1)(585,0.14)(592,0.17)(599,0.12)(605,0.15)(612,0.1)(618,0.14)(625,0.08)(632,0.12)(638,0.1)(645,0.15)(652,0.08)(658,0.12)(665,0.1)(671,0.15)(678,0.05)(683,0.15)(688,0.25)(693,0.12)(698,0.2)(703,0.08)(708,0.12)(715,0.05)(721,0.08)(728,0.06)(735,0.05)(741,0.08)(748,0.04)(754,0.07)(761,0.04)(768,0.08)(774,0.05)(781,0.06)(788,0.03)(794,0.05)(801,0.03)(807,0.06)(814,0.02)(821,0.05)(827,0)(834,0.03)(840,0)(847,0.02)(854,0)(860,0.03)(867,0.01)(874,0)(881,0.02)(887,0.06)(894,0.1)(900,0.08)(907,0.12)(914,0.1)(920,0.15)(927,0.13)(932,0.17)};
\addplot[trd] coordinates {(0,0.07)(60,-0.05)(124,-0.16)(207,-0.19)(290,-0.16)(415,-0.045)(539,0.09)(622,0.13)(705,0.155)(788,0.12)(870,0.03)(928,-0.07)};
\addplot[trd] coordinates {(0,0.04)(60,-0.1)(124,-0.25)(249,-0.34)(373,-0.3)(497,-0.2)(622,-0.09)(705,-0.01)(788,0.03)(870,0.03)(928,0.01)};
\draw[arr] (axis cs:8,0.26) -- (axis cs:123,0.26);
\end{axis}

\begin{axis}[panel, at={(273.5pt,-383.05pt)}, anchor=north west]
\rdeco{h}{0.93}
\addplot[gry] coordinates {(3,-0.12)(10,-0.05)(18,-0.03)(26,-0.05)(34,-0.03)(42,-0.06)(50,-0.05)(58,-0.08)(66,-0.1)(74,-0.12)(82,-0.1)(90,-0.13)(98,-0.1)(106,-0.14)(114,-0.12)(122,-0.15)(130,-0.12)(138,-0.16)(146,-0.2)(154,-0.18)(162,-0.22)(170,-0.2)(178,-0.24)(186,-0.26)(194,-0.2)(202,-0.18)(210,-0.21)(218,-0.18)(226,-0.22)(234,-0.17)(242,-0.2)(250,-0.15)(256,-0.2)(262,-0.32)(266,-0.15)(272,-0.2)(280,-0.15)(288,-0.22)(296,-0.18)(304,-0.26)(312,-0.2)(318,-0.28)(324,-0.15)(330,-0.2)(338,-0.15)(346,-0.22)(354,-0.18)(362,-0.25)(370,-0.28)(378,-0.2)(386,-0.15)(394,-0.2)(402,-0.12)(410,-0.17)(418,-0.1)(426,-0.13)(434,-0.08)(442,-0.12)(450,-0.08)(456,-0.15)(460,-0.25)(464,-0.4)(468,-0.2)(472,-0.12)(480,-0.15)(488,-0.1)(496,-0.13)(504,-0.08)(512,-0.12)(520,-0.08)(528,-0.1)(536,-0.06)(544,-0.1)(552,-0.12)(560,-0.08)(568,-0.12)(576,-0.16)(584,-0.1)(592,-0.13)(600,-0.08)(608,-0.1)(616,-0.06)(624,-0.09)(632,-0.05)(640,-0.08)(648,-0.05)(656,-0.07)(664,-0.04)(672,-0.06)(680,-0.03)(688,-0.05)(694,0.05)(700,-0.02)(708,-0.04)(716,-0.01)(724,-0.03)(732,0)(740,-0.02)(748,0.01)(756,-0.01)(764,0.02)(772,0)(780,0.02)(788,-0.01)(796,0.02)(804,0)(812,0.03)(820,0.01)(828,0.03)(836,0)(844,0.03)(852,0.01)(860,0.04)(868,0.02)(876,0.05)(884,0.03)(892,0.06)(900,0.05)(908,0.08)(916,0.1)(924,0.12)(930,0.14)};
\addplot[blk] coordinates {(3,-0.15)(7,-0.05)(12,0)(17,-0.02)(24,0.01)(31,0.03)(37,0)(44,-0.05)(50,-0.03)(57,-0.06)(64,-0.04)(70,-0.08)(77,-0.05)(84,-0.1)(90,-0.06)(97,-0.1)(103,-0.05)(110,-0.08)(117,-0.12)(122,0.05)(125,0.15)(128,0)(133,0.05)(138,-0.1)(143,-0.05)(148,-0.12)(153,0)(158,-0.05)(163,0.04)(168,-0.08)(173,-0.1)(178,-0.12)(183,-0.05)(189,-0.08)(196,-0.04)(203,-0.06)(209,-0.03)(216,-0.05)(222,-0.02)(229,-0.05)(236,0)(242,-0.02)(249,0.01)(256,-0.03)(262,0)(267,-0.08)(272,0)(279,-0.03)(285,0)(292,-0.02)(299,0)(305,-0.05)(312,0)(318,0.1)(323,0.05)(328,0)(333,0.05)(338,-0.02)(345,0.05)(351,0.1)(358,0.05)(363,0.12)(368,0.05)(373,0.1)(380,0.08)(386,0.12)(393,0.06)(399,0.15)(406,0.05)(413,0.12)(419,0.18)(426,0.2)(433,0.22)(439,0.25)(446,0.22)(451,0.3)(454,0.2)(457,0.05)(461,-0.1)(464,0.05)(469,0.12)(474,0.05)(479,0.1)(485,0)(492,0.08)(499,0.05)(505,0.1)(512,0.03)(519,0.12)(525,0.08)(532,0.1)(538,0.06)(545,0.12)(552,0.08)(558,0.1)(565,0.05)(571,0.1)(578,0.07)(585,0.12)(591,0.06)(598,0.1)(605,0.05)(611,0.1)(618,0.07)(624,0.11)(631,0.08)(638,0.1)(644,0.06)(651,0.12)(657,0.08)(664,0.1)(671,0.06)(677,0.08)(684,0.12)(689,0.05)(692,0.2)(696,0.25)(699,0.1)(704,0.2)(709,0.1)(715,0.05)(722,0.08)(729,0.06)(735,0.09)(742,0.05)(748,0.08)(755,0.06)(762,0.08)(768,0.04)(775,0.07)(782,0.09)(788,0.05)(795,0.08)(801,0.04)(808,0.07)(815,0.04)(821,0.06)(828,0.03)(834,0.06)(841,0.04)(848,0.07)(854,0.02)(861,0.05)(868,0.04)(874,0.02)(881,0.05)(887,0.03)(894,0.06)(901,0.08)(907,0.12)(914,0.1)(920,0.15)(925,0.13)(930,0.2)};
\addplot[trd] coordinates {(3,-0.015)(107,-0.03)(231,-0.005)(355,0.03)(479,0.07)(644,0.1)(768,0.1)(851,0.08)(934,0.05)};
\addplot[trd] coordinates {(3,-0.045)(107,-0.09)(189,-0.14)(272,-0.16)(396,-0.16)(479,-0.13)(603,-0.075)(727,-0.03)(810,0.01)(892,0.04)(934,0.06)};
\draw[arr] (axis cs:3,0.26) -- (axis cs:119,0.26);
\end{axis}

% ---------------- August ----------------
\begin{axis}[panel, at={(26.5pt,-508.45pt)}, anchor=north west]
\ldeco{i}
\node[mon] at (axis cs:1093,0.08) {Aug};
\addplot[gry] coordinates {(2,0.05)(8,0.02)(14,0)(20,-0.05)(28,-0.1)(36,-0.15)(42,-0.18)(48,-0.15)(54,-0.08)(60,0.02)(68,0.06)(76,0.05)(84,0.08)(92,0.04)(100,0)(108,0.05)(114,0.1)(120,0.2)(126,0.22)(132,0.15)(138,-0.05)(143,-0.35)(147,-0.1)(152,0.05)(157,0.15)(162,0.05)(168,-0.15)(174,-0.3)(180,-0.2)(186,-0.3)(192,-0.2)(198,-0.1)(204,0)(210,0.05)(216,-0.05)(222,-0.2)(228,-0.45)(232,-0.3)(238,-0.2)(244,-0.1)(250,-0.2)(256,-0.55)(260,-0.72)(264,-0.6)(270,-0.3)(276,-0.1)(282,-0.15)(288,-0.12)(294,-0.08)(300,-0.12)(306,0)(312,0.1)(318,0.05)(324,0.15)(330,0.2)(336,0.25)(342,0.3)(348,0.4)(352,0.6)(356,0.3)(360,-0.1)(366,-0.25)(372,-0.35)(378,-0.25)(384,-0.3)(390,-0.2)(396,-0.3)(402,-0.25)(408,-0.35)(414,-0.4)(420,-0.15)(426,-0.1)(432,-0.3)(438,-0.25)(444,-0.15)(450,-0.2)(456,-0.3)(462,-0.25)(468,-0.35)(474,-0.2)(480,-0.15)(486,-0.3)(492,-0.35)(498,-0.2)(504,-0.25)(510,-0.1)(516,-0.3)(522,-0.38)(528,-0.45)(532,-0.1)(538,-0.25)(544,-0.45)(550,-0.2)(556,-0.05)(562,-0.25)(568,-0.3)(574,-0.05)(580,-0.1)(586,-0.05)(592,-0.15)(598,-0.25)(604,-0.3)(610,-0.35)(616,-0.2)(622,-0.3)(628,-0.2)(634,-0.25)(640,-0.35)(646,-0.2)(652,-0.5)(656,-0.15)(662,0.1)(668,0.2)(674,0.25)(680,0.2)(686,0.15)(692,0.05)(698,-0.1)(704,-0.5)(708,-0.6)(714,-0.35)(720,-0.3)(728,-0.28)(736,-0.25)(744,-0.3)(752,-0.26)(760,-0.28)(768,-0.24)(776,-0.27)(784,-0.25)(792,-0.3)(800,-0.26)(808,-0.24)(816,-0.27)(824,-0.22)(832,-0.25)(840,-0.2)(848,-0.24)(856,-0.2)(864,-0.23)(872,-0.19)(880,-0.22)(888,-0.18)(898,-0.2)};
\addplot[blk] coordinates {(2,0.07)(7,0.04)(12,0.02)(18,0)(25,-0.03)(32,-0.08)(38,-0.12)(43,-0.15)(48,-0.12)(53,-0.05)(58,0)(65,0.05)(71,0.1)(78,0.08)(85,0.12)(91,0.08)(98,0.05)(105,0.1)(110,0.2)(115,0.15)(120,0.25)(125,0.3)(130,0.32)(134,0.25)(139,0.05)(143,-0.45)(146,-0.1)(149,0.2)(153,0.38)(156,0.4)(159,0.3)(164,0.1)(169,-0.1)(174,-0.2)(179,-0.1)(184,-0.18)(189,-0.05)(194,-0.15)(199,0)(204,0.12)(209,0.15)(214,0.1)(219,-0.05)(224,-0.25)(228,-0.3)(232,-0.15)(237,0)(242,0.05)(247,-0.1)(251,0.05)(254,-0.2)(257,-0.45)(261,-0.55)(264,-0.5)(267,-0.3)(272,-0.05)(277,0)(282,0.02)(287,0)(292,0.03)(297,-0.02)(302,0.05)(307,0.1)(312,0.2)(317,0.15)(322,0.25)(327,0.3)(332,0.35)(337,0.38)(342,0.4)(347,0.55)(350,0.7)(353,0.95)(355,0.6)(359,0.2)(364,0)(369,-0.05)(374,0.05)(379,0.1)(384,0.05)(388,0.08)(393,-0.05)(398,0)(403,0.1)(408,0.05)(413,-0.1)(418,0.05)(423,0.22)(427,0.15)(432,0.05)(437,0.1)(442,0.15)(447,0.12)(452,0.05)(457,0)(461,0.05)(466,-0.05)(471,0.05)(476,0.15)(481,0.1)(486,-0.05)(491,0)(496,0.1)(501,0.05)(506,0.2)(511,0.1)(516,0)(521,0.05)(526,0)(531,0.35)(535,0.25)(540,0.05)(545,0.2)(549,0.1)(554,0.3)(559,0.15)(564,0.05)(569,0.1)(574,0.35)(579,0.3)(584,0.32)(589,0.2)(594,0.25)(599,0.1)(604,0.05)(609,0)(614,0.12)(619,0.1)(624,0.05)(629,0.15)(634,0.1)(639,0)(644,0.15)(649,0.05)(654,0.2)(659,0.05)(664,0.55)(669,0.6)(674,0.55)(679,0.53)(684,0.52)(689,0.4)(694,0.3)(699,0.1)(704,-0.2)(709,-0.1)(714,0.08)(720,0.1)(727,0.12)(734,0.08)(740,0.1)(747,0.12)(754,0.06)(760,0.1)(767,0.08)(774,0.04)(780,0.06)(787,0.12)(793,0.08)(800,0.05)(807,0.1)(813,0.06)(820,0.04)(827,0.08)(833,0.1)(840,0.06)(847,0.1)(853,0.05)(860,0.08)(867,0.04)(873,0.07)(880,0.1)(886,0.05)(893,0.1)(898,0.06)};
\addplot[trd] coordinates {(2,0.03)(118,0)(242,0)(325,0.02)(450,0.05)(574,0.09)(699,0.11)(782,0.105)(898,0.09)};
\addplot[trd] coordinates {(2,0.03)(101,-0.06)(201,-0.12)(284,-0.15)(408,-0.2)(533,-0.25)(616,-0.27)(699,-0.265)(782,-0.24)(898,-0.2)};
\draw[arr] (axis cs:10,0.3) -- (axis cs:123,0.3);
\end{axis}

\begin{axis}[panel, at={(276pt,-508.45pt)}, anchor=north west]
\rdeco{j}{0.93}
\addplot[gry] coordinates {(2,0.05)(8,0.02)(14,0)(20,-0.05)(28,-0.1)(36,-0.17)(42,-0.18)(48,-0.13)(54,-0.06)(60,0.02)(68,0.08)(76,0.06)(84,0.1)(92,0.05)(100,0.02)(108,0.08)(114,0.15)(120,0.25)(126,0.28)(132,0.2)(138,-0.05)(143,-0.38)(147,-0.1)(152,0.1)(157,0.2)(162,0.05)(168,-0.15)(174,-0.27)(180,-0.2)(186,-0.27)(192,-0.2)(198,-0.1)(204,0)(210,0.05)(216,-0.05)(222,-0.2)(228,-0.42)(232,-0.3)(238,-0.2)(244,-0.1)(250,-0.2)(256,-0.5)(260,-0.68)(264,-0.6)(270,-0.3)(276,-0.1)(282,-0.15)(288,-0.12)(294,-0.08)(300,-0.12)(306,0)(312,0.1)(318,0.05)(324,0.15)(330,0.2)(336,0.25)(342,0.3)(348,0.4)(352,0.6)(356,0.3)(360,-0.1)(366,-0.25)(372,-0.35)(378,-0.25)(384,-0.3)(390,-0.2)(396,-0.3)(402,-0.25)(408,-0.35)(414,-0.4)(420,-0.15)(426,-0.1)(432,-0.3)(438,-0.25)(444,-0.15)(450,-0.2)(456,-0.3)(462,-0.25)(468,-0.35)(474,-0.2)(480,-0.15)(486,-0.3)(492,-0.35)(498,-0.2)(504,-0.25)(510,-0.1)(516,-0.3)(522,-0.38)(528,-0.45)(532,-0.1)(538,-0.25)(544,-0.45)(550,-0.2)(556,-0.05)(562,-0.25)(568,-0.3)(574,-0.05)(580,-0.1)(586,-0.05)(592,-0.15)(598,-0.25)(604,-0.3)(610,-0.35)(616,-0.2)(622,-0.3)(628,-0.2)(634,-0.25)(640,-0.35)(646,-0.2)(652,-0.52)(656,-0.15)(662,0.1)(668,0.2)(674,0.22)(680,0.18)(686,0.15)(692,0.05)(698,-0.1)(704,-0.5)(708,-0.63)(714,-0.35)(720,-0.32)(728,-0.3)(736,-0.27)(744,-0.3)(752,-0.26)(760,-0.28)(768,-0.25)(776,-0.27)(784,-0.25)(792,-0.28)(800,-0.25)(808,-0.24)(816,-0.26)(824,-0.22)(832,-0.24)(840,-0.2)(848,-0.23)(856,-0.2)(864,-0.22)(872,-0.19)(880,-0.21)(888,-0.18)(898,-0.19)};
\addplot[blk] coordinates {(2,0.07)(7,0.04)(12,0.02)(18,0)(25,-0.03)(32,-0.08)(38,-0.12)(43,-0.15)(48,-0.12)(53,-0.05)(58,0)(65,0.05)(71,0.12)(78,0.1)(85,0.15)(91,0.1)(98,0.05)(105,0.12)(110,0.25)(115,0.18)(120,0.3)(125,0.35)(130,0.38)(134,0.25)(139,0.05)(143,-0.4)(146,-0.1)(149,0.2)(153,0.42)(156,0.45)(159,0.3)(164,0.1)(169,-0.1)(174,-0.18)(179,-0.08)(184,-0.18)(189,-0.05)(194,-0.15)(199,0)(204,0.12)(209,0.18)(214,0.1)(219,-0.05)(224,-0.25)(228,-0.3)(232,-0.15)(237,0)(242,0.05)(247,-0.1)(251,0.1)(254,-0.2)(257,-0.45)(261,-0.52)(264,-0.5)(267,-0.3)(272,-0.05)(277,0)(282,0.05)(287,0.02)(292,0.06)(297,0)(302,0.08)(307,0.12)(312,0.2)(317,0.18)(322,0.28)(327,0.32)(332,0.35)(337,0.38)(342,0.4)(347,0.55)(350,0.7)(353,0.99)(355,0.6)(359,0.2)(364,0)(369,-0.05)(374,0.05)(379,0.1)(384,0.05)(388,0.08)(393,-0.05)(398,0)(403,0.25)(408,0.05)(413,-0.1)(418,0.05)(423,0.15)(427,0.18)(432,0.12)(437,0.1)(442,0.15)(447,0.12)(452,0.05)(457,0)(461,0.05)(466,-0.05)(471,0.05)(476,0.15)(481,0.1)(486,-0.05)(491,0)(496,0.1)(501,0.05)(506,0.2)(511,0.1)(516,0)(521,0.05)(526,0)(531,0.33)(535,0.25)(540,0.05)(545,0.2)(549,0.1)(554,0.25)(559,0.15)(564,0.05)(569,0.1)(574,0.35)(579,0.3)(584,0.32)(589,0.2)(594,0.25)(599,0.1)(604,0.05)(609,0)(614,0.12)(619,0.1)(624,0.05)(629,0.15)(634,0.1)(639,0)(644,0.15)(649,0.05)(654,0.2)(659,0.05)(664,0.55)(669,0.6)(674,0.55)(679,0.53)(684,0.52)(689,0.4)(694,0.3)(699,0.1)(704,-0.25)(709,-0.1)(714,0.08)(720,0.1)(727,0.12)(734,0.08)(740,0.1)(747,0.12)(754,0.06)(760,0.1)(767,0.08)(774,0.04)(780,0.06)(787,0.12)(793,0.08)(800,0.05)(807,0.1)(813,0.06)(820,0.04)(827,0.08)(833,0.1)(840,0.06)(847,0.1)(853,0.05)(860,0.08)(867,0.04)(873,0.07)(880,0.1)(886,0.05)(893,0.1)(898,0.08)};
\addplot[trd] coordinates {(0,0.03)(178,0.045)(344,0.065)(510,0.085)(676,0.09)(760,0.095)(900,0.09)};
\addplot[trd] coordinates {(0,0.025)(95,-0.015)(178,-0.06)(303,-0.135)(386,-0.195)(552,-0.27)(676,-0.29)(760,-0.27)(900,-0.21)};
\draw[arr] (axis cs:10,0.3) -- (axis cs:115,0.3);
\end{axis}

% ---------------- September ----------------
\begin{axis}[panel, at={(25pt,-633.85pt)}, anchor=north west]
\ldeco{k}
\node[mon] at (axis cs:1097,0.05) {Sept};
\addplot[gry] coordinates {(0,0.2)(7,0.25)(13,0.22)(20,0.27)(27,0.3)(33,0.28)(40,0.26)(46,0.25)(53,0.22)(60,0.24)(66,0.2)(73,0.22)(80,0.18)(86,0.2)(93,0.15)(99,0.18)(106,0.2)(113,0.15)(120,0.18)(126,0.2)(133,0.15)(139,0.28)(145,0.12)(152,0.18)(159,0.15)(166,0.2)(172,0.17)(179,0.19)(186,0.15)(192,0.18)(199,0.16)(206,0.2)(212,0.15)(219,0.18)(226,0.22)(232,0.17)(239,0.2)(246,0.24)(252,0.18)(259,0.15)(265,0.2)(272,0.25)(279,0.22)(285,0.15)(292,0.2)(298,0.1)(305,0.12)(312,0)(318,-0.05)(322,0.1)(326,0.25)(332,0.15)(338,0.28)(344,0.1)(350,0.15)(356,-0.02)(362,0.15)(368,0.05)(374,0.2)(380,0.26)(386,0.12)(392,0.2)(398,0.1)(404,0.15)(410,0.22)(416,0.12)(422,0.15)(430,0.12)(438,0.18)(446,0.15)(454,0.2)(460,0.25)(466,0.28)(472,0.22)(478,0.27)(484,0.3)(488,0.2)(492,0.1)(496,0.25)(502,0.18)(508,0.28)(514,0.2)(520,0.3)(526,0.22)(532,0.25)(538,0.18)(544,0.28)(550,0.2)(556,0.22)(562,0.35)(568,0.18)(574,0.25)(580,0.2)(586,0.15)(592,0.25)(598,0.15)(604,0.1)(610,0.2)(616,0.15)(622,0.28)(628,0.2)(634,0.12)(640,0.3)(646,0.15)(652,0.22)(658,0.1)(664,0.3)(670,0.22)(676,0.25)(682,0.15)(688,0.3)(694,0.36)(700,0.3)(706,0.22)(712,0.3)(718,0.2)(724,0.25)(732,0.18)(740,0.15)(748,0.12)(756,0.18)(764,0.14)(772,0.1)(780,0.15)(788,0.12)(796,0.15)(804,0.1)(812,0.16)(820,0.12)(828,0.15)(836,0.08)(844,0.14)(852,0.1)(860,0.18)(868,0.2)(876,0.17)(884,0.2)(892,0.16)(900,0.2)(908,0.17)(916,0.21)(924,0.18)(933,0.22)};
\addplot[blk] coordinates {(0,0.15)(7,0.12)(13,0.14)(20,0.1)(27,0.12)(33,0.08)(40,0.1)(46,0.05)(53,0.07)(60,0.03)(66,0.05)(73,0.02)(80,0.04)(86,0)(93,0.02)(99,-0.03)(106,-0.05)(113,0)(118,0.05)(123,-0.05)(128,-0.1)(133,-0.03)(139,0)(146,-0.02)(153,0)(159,-0.03)(166,-0.01)(172,-0.04)(179,-0.02)(186,-0.05)(192,-0.03)(199,-0.06)(206,-0.04)(212,-0.07)(219,-0.03)(226,-0.05)(232,0)(239,0.05)(246,0.02)(252,0.07)(259,0.05)(265,-0.02)(272,0)(279,-0.05)(285,-0.02)(292,0.03)(298,-0.05)(305,-0.12)(312,-0.1)(318,-0.2)(325,-0.25)(330,-0.28)(333,-0.1)(338,0.05)(343,-0.15)(348,-0.2)(353,-0.1)(358,-0.18)(363,-0.25)(368,-0.37)(371,-0.2)(376,-0.15)(381,-0.18)(386,-0.1)(391,-0.15)(396,-0.05)(401,-0.1)(406,-0.08)(413,-0.12)(419,-0.08)(426,-0.1)(433,-0.05)(439,-0.08)(446,-0.04)(452,0)(459,-0.02)(466,0.02)(471,0)(476,0.04)(481,-0.02)(485,-0.27)(489,0.05)(494,-0.02)(499,0.02)(506,0)(512,0.05)(519,0.03)(526,0.08)(532,0.05)(539,0.1)(544,0.06)(549,0.12)(554,0.05)(559,0.18)(564,0.08)(569,0.12)(574,0.05)(580,0)(585,0.1)(590,0.02)(595,0.08)(600,-0.03)(605,0.05)(610,0.1)(615,0)(620,0.12)(626,-0.05)(629,0.1)(634,0.15)(639,0.05)(645,0.1)(650,0.05)(655,-0.05)(661,-0.12)(666,0.05)(671,0)(677,0.1)(682,0.02)(687,0.15)(692,0.05)(697,-0.05)(702,-0.08)(707,0)(712,0.05)(717,0.02)(722,0.06)(729,0.02)(734,0.05)(741,0)(747,-0.05)(754,-0.08)(760,-0.05)(767,-0.09)(774,-0.04)(781,-0.07)(788,-0.02)(795,-0.05)(803,0)(808,-0.04)(815,0.01)(823,-0.03)(831,-0.06)(837,0)(844,-0.08)(850,-0.02)(856,0.03)(864,0.05)(871,0.08)(878,0.06)(885,0.1)(892,0.08)(899,0.12)(905,0.09)(912,0.13)(919,0.1)(925,0.14)(933,0.13)};
\addplot[trd] coordinates {(0,0.24)(149,0.165)(249,0.15)(373,0.155)(539,0.175)(705,0.18)(788,0.175)(928,0.15)};
\addplot[trd] coordinates {(0,0.145)(83,0.07)(207,-0.015)(332,-0.06)(456,-0.06)(580,-0.03)(746,0.03)(829,0.045)(928,0.02)};
\draw[arr] (axis cs:8,0.37) -- (axis cs:123,0.37);
\end{axis}

\begin{axis}[panel, at={(273.5pt,-633.85pt)}, anchor=north west]
\rdeco{l}{0.93}
\addplot[gry] coordinates {(3,0.05)(9,0.1)(16,0.15)(22,0.2)(29,0.22)(36,0.2)(42,0.18)(49,0.2)(55,0.16)(62,0.19)(69,0.17)(75,0.2)(82,0.17)(88,0.2)(95,0.15)(102,0.18)(108,0.2)(115,0.16)(122,0.19)(128,0.15)(135,0.18)(141,0.3)(145,0.18)(150,0.15)(156,0.2)(163,0.16)(170,0.19)(176,0.17)(183,0.15)(189,0.2)(196,0.18)(203,0.22)(209,0.2)(216,0.24)(222,0.28)(229,0.22)(236,0.27)(242,0.3)(249,0.2)(256,0.25)(262,0.28)(269,0.2)(275,0.15)(282,0.28)(289,0.2)(295,0.1)(302,0.05)(308,0.15)(315,0.3)(322,0.2)(328,0.1)(333,0)(338,0.1)(343,0.25)(348,0.3)(353,0.15)(358,0.25)(363,0.05)(368,0.2)(373,0.22)(380,0.18)(386,0.25)(392,0.2)(398,0.22)(404,0.2)(410,0.25)(416,0.22)(422,0.24)(430,0.22)(438,0.26)(446,0.3)(452,0.35)(458,0.32)(464,0.36)(470,0.3)(476,0.32)(482,0.25)(487,0.1)(490,0.3)(496,0.33)(502,0.28)(508,0.32)(514,0.25)(520,0.3)(526,0.22)(532,0.28)(538,0.3)(544,0.2)(550,0.25)(556,0.35)(562,0.2)(568,0.27)(574,0.22)(580,0.15)(586,0.28)(592,0.2)(598,0.26)(604,0.12)(610,0.2)(616,0.3)(622,0.22)(628,0.15)(634,0.25)(640,0.18)(646,0.1)(652,0.27)(658,0.2)(664,0.3)(670,0.18)(676,0.28)(682,0.35)(688,0.38)(694,0.3)(700,0.2)(706,0.3)(712,0.25)(718,0.35)(724,0.3)(730,0.25)(736,0.2)(744,0.15)(752,0.18)(760,0.15)(768,0.12)(776,0.16)(784,0.13)(792,0.17)(800,0.12)(808,0.15)(816,0.1)(824,0.14)(832,0.12)(840,0.18)(848,0.2)(856,0.16)(864,0.2)(872,0.17)(880,0.2)(888,0.16)(896,0.2)(904,0.17)(912,0.22)(920,0.2)(926,0.25)};
\addplot[blk] coordinates {(3,0.02)(9,0.05)(16,0.08)(22,0.06)(29,0.03)(36,0.05)(42,0.01)(49,0)(55,0.02)(62,-0.01)(69,0.02)(75,0)(82,0.02)(88,-0.02)(95,0)(102,-0.02)(108,0.01)(115,-0.03)(122,0.02)(128,-0.05)(135,-0.02)(141,0.12)(145,-0.02)(150,0)(156,-0.01)(163,0.01)(170,-0.02)(176,0)(183,-0.03)(189,-0.01)(196,-0.04)(203,-0.02)(209,-0.05)(216,-0.02)(222,-0.04)(229,0)(236,-0.03)(242,0.02)(249,0.05)(256,0.03)(262,0.07)(269,0.04)(275,-0.02)(282,0.03)(289,-0.05)(295,0)(302,-0.03)(308,-0.08)(315,-0.12)(322,-0.1)(328,-0.2)(333,-0.25)(338,-0.18)(343,-0.1)(348,-0.2)(353,-0.12)(358,-0.22)(363,-0.15)(366,-0.32)(370,-0.2)(375,-0.1)(380,-0.15)(385,-0.05)(390,-0.12)(394,-0.03)(399,-0.05)(406,0)(413,-0.02)(419,0)(426,-0.03)(433,0.01)(439,0)(446,0.03)(452,0.08)(459,0.05)(465,0.1)(470,0.05)(477,0.12)(482,0.05)(487,-0.2)(490,0.08)(495,0.1)(502,0.05)(509,0.15)(515,0.08)(522,0.12)(528,0.05)(535,0.18)(540,0.1)(545,0.15)(550,0.05)(555,0.2)(560,0.1)(565,0.15)(570,0.05)(575,0.12)(580,-0.03)(585,0.1)(590,0.05)(595,0)(600,0.12)(605,-0.08)(610,0.05)(614,0.1)(619,0)(624,0.08)(629,-0.03)(634,0.05)(639,-0.1)(644,0.05)(649,0.12)(654,0)(659,0.08)(664,0.02)(669,0.15)(674,0.05)(679,0)(684,0.1)(689,0.05)(694,-0.08)(699,0)(704,0.05)(709,0.02)(715,0.08)(722,0.03)(729,0.05)(735,0)(742,0.03)(748,-0.02)(755,-0.05)(762,-0.02)(768,-0.06)(775,-0.03)(782,0)(788,-0.03)(795,-0.05)(801,-0.02)(808,-0.06)(815,-0.03)(821,-0.07)(828,-0.02)(834,-0.05)(841,0)(848,0.05)(854,0.03)(861,0.08)(868,0.1)(874,0.08)(881,0.12)(887,0.1)(894,0.12)(901,0.1)(907,0.15)(914,0.12)(920,0.17)(925,0.15)};
\addplot[trd] coordinates {(3,0.14)(148,0.18)(272,0.2)(437,0.21)(603,0.21)(768,0.2)(925,0.18)};
\addplot[trd] coordinates {(3,0.03)(189,0)(313,-0.005)(520,0.01)(727,0.04)(925,0.05)};
\draw[arr] (axis cs:3,0.385) -- (axis cs:119,0.385);
\end{axis}
\end{tikzpicture}
\end{document}
